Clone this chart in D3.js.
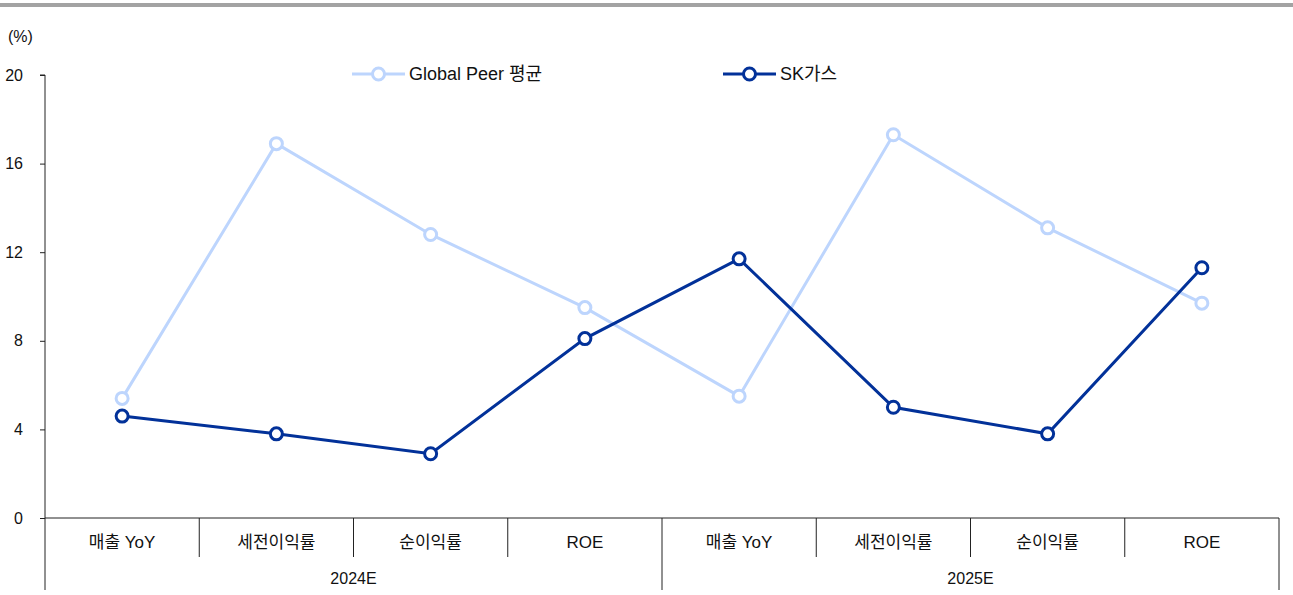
<!DOCTYPE html>
<html>
<head>
<meta charset="utf-8">
<script src="https://cdn.jsdelivr.net/npm/d3@7"></script>
<style>
  body { margin: 0; background: #fff; }
  text { font-family: "Liberation Sans Narrow", "Liberation Sans", "Noto Sans CJK KR", sans-serif; fill: #111; }
</style>
</head>
<body>
<svg id="chart" width="1293" height="595"></svg>
<script>
// Data
const groups = ["2024E", "2025E"];
const metrics = ["매출 YoY", "세전이익률", "순이익률", "ROE"];
const peerValues = [5.4, 16.9, 12.8, 9.5, 5.5, 17.3, 13.1, 9.7];
const skValues = [4.6, 3.8, 2.9, 8.1, 11.7, 5.0, 3.8, 11.3];
const yTicks = [0, 4, 8, 12, 16, 20];
const seriesNames = ["Global Peer 평균", "SK가스"];

const peerColor = "#bdd5fd";
const skColor = "#023199";

const svg = d3.select("#chart");
const plotLeft = 45, plotRight = 1279, plotTop = 75, plotBottom = 518;

// categories as "group|metric"
const cats = [];
groups.forEach(g => metrics.forEach(m => cats.push(g + "|" + m)));

const x = d3.scaleBand().domain(cats).range([plotLeft, plotRight]);
const xg = d3.scaleBand().domain(groups).range([plotLeft, plotRight]);
const y = d3.scaleLinear().domain([0, 20]).range([plotBottom, plotTop]);

// top gray rule
svg.append("rect").attr("x", 0).attr("y", 3).attr("width", 1293).attr("height", 4).attr("fill", "#a3a3a3");

svg.append("text").attr("x", 8).attr("y", 42).style("font-size", "16px").text("(%)");

// y axis
const yAxis = svg.append("g").attr("transform", `translate(${plotLeft},0)`)
  .call(d3.axisLeft(y).tickValues(yTicks).tickSize(5));
yAxis.select(".domain").attr("stroke", "#222").attr("d", `M-5,${plotTop}H0V${plotBottom}`);
yAxis.selectAll("line").attr("stroke", "#222");
yAxis.selectAll("text").style("font-size", "16px").attr("fill", "#111")
  .attr("text-anchor", "end").attr("x", -22);

// x axis baseline
svg.append("line").attr("x1", plotLeft).attr("x2", plotRight).attr("y1", plotBottom).attr("y2", plotBottom).attr("stroke", "#222");

// dividers
const inner = cats.map(c => x(c)).filter(v => !groups.some(g => xg(g) === v));
svg.selectAll(".div-in").data(inner).enter().append("line")
  .attr("x1", d => d).attr("x2", d => d).attr("y1", plotBottom).attr("y2", 557).attr("stroke", "#222");
const outer = groups.map(g => xg(g)).concat([plotRight]);
svg.selectAll(".div-out").data(outer).enter().append("line")
  .attr("x1", d => d).attr("x2", d => d).attr("y1", plotBottom).attr("y2", 590).attr("stroke", "#222");

// category labels
svg.selectAll(".cat").data(cats).enter().append("text")
  .attr("x", d => x(d) + x.bandwidth() / 2).attr("y", 548)
  .attr("text-anchor", "middle").style("font-size", "17px")
  .text(d => d.split("|")[1]);

svg.selectAll(".grp").data(groups).enter().append("text")
  .attr("x", d => xg(d) + xg.bandwidth() / 2).attr("y", 584)
  .attr("text-anchor", "middle").style("font-size", "16px")
  .text(d => d);

// lines
const line = d3.line().x((d, i) => x(cats[i]) + x.bandwidth() / 2).y(d => y(d));

function drawSeries(values, color) {
  svg.append("path").datum(values).attr("d", line)
    .attr("fill", "none").attr("stroke", color).attr("stroke-width", 3);
  svg.selectAll(null).data(values).enter().append("circle")
    .attr("cx", (d, i) => x(cats[i]) + x.bandwidth() / 2).attr("cy", d => y(d))
    .attr("r", 6).attr("fill", "#fff").attr("stroke", color).attr("stroke-width", 3);
}
drawSeries(peerValues, peerColor);
drawSeries(skValues, skColor);

// legend
const legend = [
  { name: seriesNames[0], color: peerColor, x: 352 },
  { name: seriesNames[1], color: skColor, x: 723 }
];
legend.forEach(l => {
  const g = svg.append("g").attr("transform", `translate(${l.x},74)`);
  g.append("line").attr("x1", 0).attr("x2", 53).attr("stroke", l.color).attr("stroke-width", 3);
  g.append("circle").attr("cx", 26.5).attr("r", 6).attr("fill", "#fff").attr("stroke", l.color).attr("stroke-width", 3);
  g.append("text").attr("x", 57).attr("y", 6).style("font-size", "18px").text(l.name);
});
</script>
</body>
</html>
